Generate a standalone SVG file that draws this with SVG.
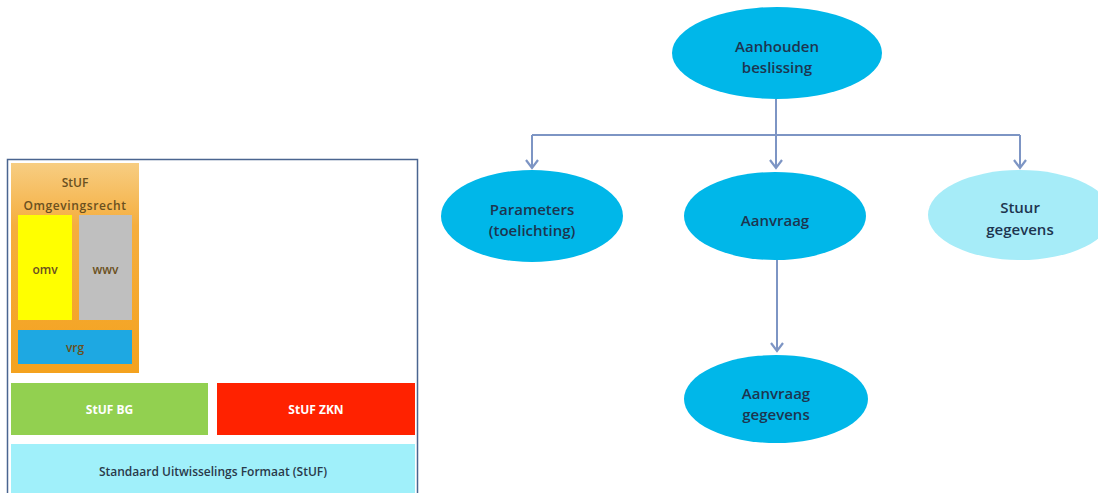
<svg xmlns="http://www.w3.org/2000/svg" width="1098" height="493" viewBox="0 0 1098 493">
<style>
.lbl{font-family:"Open Sans","Liberation Sans",sans-serif;font-size:15px;font-weight:600;fill:#1d3550;text-anchor:middle}
.sm{font-family:"Open Sans","Liberation Sans",sans-serif;font-size:12px;font-weight:600;text-anchor:middle;fill:#6a5020}
.wt{font-family:"Open Sans","Liberation Sans",sans-serif;font-size:12px;text-anchor:middle;fill:#ffffff;font-weight:bold}
.node{fill:#00b7e9}
.conn{stroke:#7d95c4;stroke-width:2;fill:none}
</style>
<defs>
<linearGradient id="og" x1="0" y1="0" x2="0" y2="1">
<stop offset="0" stop-color="#f7cd82"/>
<stop offset="0.3" stop-color="#f5ae3e"/>
<stop offset="1" stop-color="#f4a21e"/>
</linearGradient>
<marker id="arr" markerWidth="12" markerHeight="14" refX="10" refY="7" orient="auto" markerUnits="userSpaceOnUse" viewBox="0 0 12 14">
<path d="M2,1 L10,7 L2,13" fill="none" stroke="#7d95c4" stroke-width="2.2"/>
</marker>
</defs>
<rect width="1098" height="493" fill="#ffffff"/>

<g id="stuf-panel">
<rect x="7.5" y="159.5" width="410" height="340" fill="#ffffff" stroke="#4a6590" stroke-width="1.5"/>
<g id="omgevingsrecht">
<rect x="11" y="163" width="128" height="210" fill="url(#og)"/>
<text class="sm" x="75" y="187">StUF</text>
<text class="sm" x="75" y="210" letter-spacing="0.6">Omgevingsrecht</text>
</g>
<g id="omv">
<rect x="18" y="215" width="54" height="105" fill="#ffff00"/>
<text class="sm" x="45" y="274">omv</text>
</g>
<g id="wwv">
<rect x="79" y="215" width="53" height="105" fill="#bfbfbf"/>
<text class="sm" x="105.5" y="274">wwv</text>
</g>
<g id="vrg">
<rect x="18" y="330" width="114" height="34" fill="#1ea8e2"/>
<text class="sm" x="75" y="352">vrg</text>
</g>
<g id="stuf-bg">
<rect x="11" y="383" width="197" height="52" fill="#92d050"/>
<text class="wt" x="109.5" y="414">StUF BG</text>
</g>
<g id="stuf-zkn">
<rect x="217" y="383" width="198" height="52" fill="#ff2200"/>
<text class="wt" x="316" y="414">StUF ZKN</text>
</g>
<g id="stuf-base">
<rect x="11" y="444" width="404" height="52" fill="#a0f0fa"/>
<text class="sm" x="213" y="476" style="fill:#2a3a4a">Standaard Uitwisselings Formaat (StUF)</text>
</g>
</g>

<g id="connectors">
<path class="conn" d="M776,99 V135"/>
<path class="conn" d="M532,135 H1020"/>
<path class="conn" d="M532,135 V168" marker-end="url(#arr)"/>
<path class="conn" d="M776,135 V168" marker-end="url(#arr)"/>
<path class="conn" d="M1020,135 V168" marker-end="url(#arr)"/>
<path class="conn" d="M777,260 V351" marker-end="url(#arr)"/>
</g>

<g id="aanhouden">
<ellipse class="node" cx="777" cy="53" rx="105" ry="46"/>
<text class="lbl" x="777" y="52">Aanhouden</text>
<text class="lbl" x="777" y="73">beslissing</text>
</g>
<g id="parameters">
<ellipse class="node" cx="532" cy="216" rx="91" ry="46"/>
<text class="lbl" x="532" y="215">Parameters</text>
<text class="lbl" x="532" y="236">(toelichting)</text>
</g>
<g id="aanvraag">
<ellipse class="node" cx="775" cy="216" rx="91" ry="44"/>
<text class="lbl" x="775" y="226">Aanvraag</text>
</g>
<g id="stuur">
<ellipse cx="1020" cy="215" rx="92" ry="45" fill="#a6ecf8"/>
<text class="lbl" x="1020" y="213">Stuur</text>
<text class="lbl" x="1020" y="235">gegevens</text>
</g>
<g id="aanvraag-gegevens">
<ellipse class="node" cx="776" cy="399" rx="92" ry="44"/>
<text class="lbl" x="776" y="399">Aanvraag</text>
<text class="lbl" x="776" y="420">gegevens</text>
</g>
</svg>
